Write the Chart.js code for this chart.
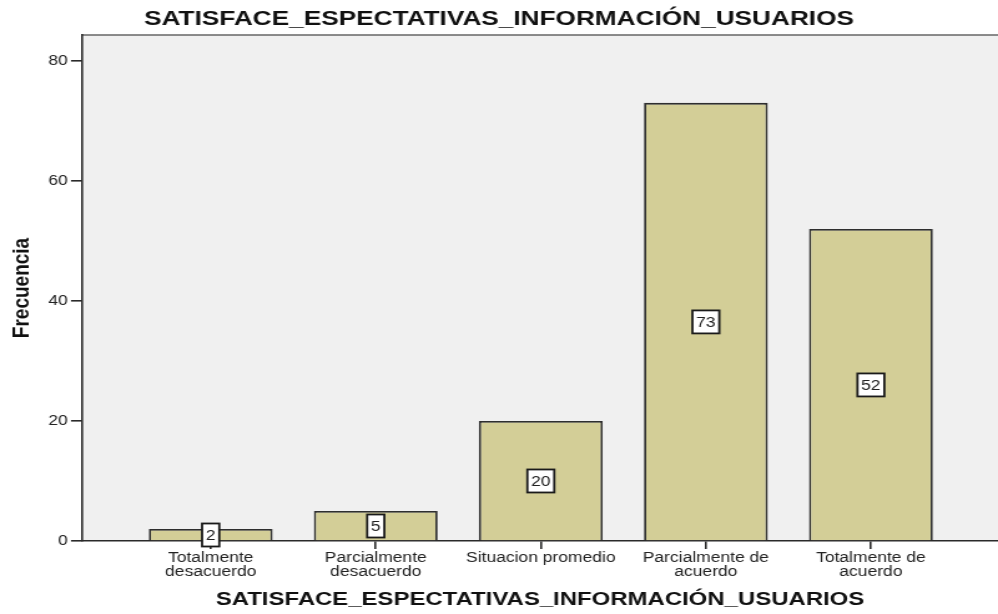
<!DOCTYPE html>
<html>
<head>
<meta charset="utf-8">
<script src="https://cdn.jsdelivr.net/npm/chart.js@4/dist/chart.umd.min.js"></script>
<style>
  html, body { margin: 0; padding: 0; background: #fff; overflow: hidden; }
  /* the source picture is a horizontally stretched SPSS export */
  #wrap { width: 800px; height: 614px; transform: scaleX(1.2475); transform-origin: 0 0; }
</style>
</head>
<body>
<div id="wrap"><canvas id="chart"></canvas></div>
<script>
const chartTitle = 'SATISFACE_ESPECTATIVAS_INFORMACIÓN_USUARIOS';
const categories = [
  ['Totalmente', 'desacuerdo'],
  ['Parcialmente', 'desacuerdo'],
  ['Situacion promedio'],
  ['Parcialmente de', 'acuerdo'],
  ['Totalmente de', 'acuerdo'],
];
const frequencies = [2, 5, 20, 73, 52];
const yTicks = [0, 20, 40, 60, 80];

const FONT = "'Liberation Sans', Arial, sans-serif";

// gray plot area + top frame line, SPSS style
const plotBackground = {
  id: 'plotBackground',
  beforeDraw(chart) {
    const { ctx, chartArea: a } = chart;
    ctx.save();
    ctx.fillStyle = '#f0f0f0';
    ctx.fillRect(a.left, a.top, a.right - a.left, a.bottom - a.top);
    ctx.strokeStyle = '#666';
    ctx.lineWidth = 1.5;
    ctx.beginPath();
    ctx.moveTo(a.left, a.top);
    ctx.lineTo(a.right, a.top);
    ctx.stroke();
    ctx.restore();
  },
};

// white value boxes in the middle of each bar
const valueBoxes = {
  id: 'valueBoxes',
  afterDatasetsDraw(chart) {
    const { ctx } = chart;
    const yScale = chart.scales.y;
    const meta = chart.getDatasetMeta(0);
    ctx.save();
    ctx.font = '14px ' + FONT;
    ctx.textAlign = 'center';
    ctx.textBaseline = 'middle';
    meta.data.forEach((bar, i) => {
      const v = frequencies[i];
      const text = String(v);
      const w = ctx.measureText(text).width + 6;
      const h = 23;
      const cy = yScale.getPixelForValue(v / 2);
      ctx.fillStyle = '#fff';
      ctx.fillRect(bar.x - w / 2, cy - h / 2, w, h);
      ctx.strokeStyle = '#1a1a1a';
      ctx.lineWidth = 1.8;
      ctx.strokeRect(bar.x - w / 2, cy - h / 2, w, h);
      ctx.fillStyle = '#222';
      ctx.fillText(text, bar.x, cy + 1);
    });
    ctx.restore();
  },
};

new Chart(document.getElementById('chart'), {
  type: 'bar',
  data: {
    datasets: [{
      label: 'Frecuencia',
      data: frequencies.map((v, i) => ({ x: i, y: v })),
      backgroundColor: '#d3ce97',
      borderColor: '#2e2e2e',
      borderWidth: 1.8,
      barPercentage: 0.75,
      categoryPercentage: 1,
    }],
  },
  options: {
    responsive: true,
    maintainAspectRatio: false,
    animation: false,
    layout: { padding: 0 },
    plugins: {
      legend: { display: false },
      tooltip: { enabled: false },
      title: {
        display: true,
        text: chartTitle,
        color: '#111',
        font: { family: FONT, size: 21, weight: 'bold', lineHeight: 1.2 },
        padding: { top: 7, bottom: 2.8 },
      },
    },
    scales: {
      x: {
        type: 'linear',
        offset: false,
        min: -0.78,
        max: 4.77,
        afterBuildTicks: (s) => { s.ticks = categories.map((_, i) => ({ value: i })); },
        afterFit: (s) => { s.height = 73; },
        ticks: {
          autoSkip: false,
          maxRotation: 0,
          padding: 2,
          color: '#222',
          font: { family: FONT, size: 14, lineHeight: 1.0 },
          callback: (v) => categories[v],
        },
        grid: { offset: false, drawOnChartArea: false, drawTicks: true, tickLength: 8, color: '#2a2a2a', lineWidth: 1.6 },
        border: { display: true, color: '#2a2a2a', width: 1.6 },
        title: {
          display: true,
          text: chartTitle,
          color: '#111',
          font: { family: FONT, size: 19.2, weight: 'bold', lineHeight: 1.2 },
          padding: { top: 0, bottom: 2.5 },
        },
      },
      y: {
        min: 0,
        max: 84.3,
        afterBuildTicks: (s) => { s.ticks = yTicks.map((v) => ({ value: v })); },
        afterFit: (s) => { s.width = 65.7; },
        ticks: {
          padding: 2.5,
          color: '#222',
          font: { family: FONT, size: 14 },
        },
        grid: { drawOnChartArea: false, drawTicks: true, tickLength: 8.8, color: '#2a2a2a', lineWidth: 1.6 },
        border: { display: true, color: '#2a2a2a', width: 1.6 },
        title: {
          display: true,
          text: 'Frecuencia',
          color: '#111',
          font: { family: FONT, size: 19, weight: 'bold', lineHeight: 1.2 },
          padding: { top: 6, bottom: 0 },
        },
      },
    },
  },
  plugins: [plotBackground, valueBoxes],
});
</script>
</body>
</html>
